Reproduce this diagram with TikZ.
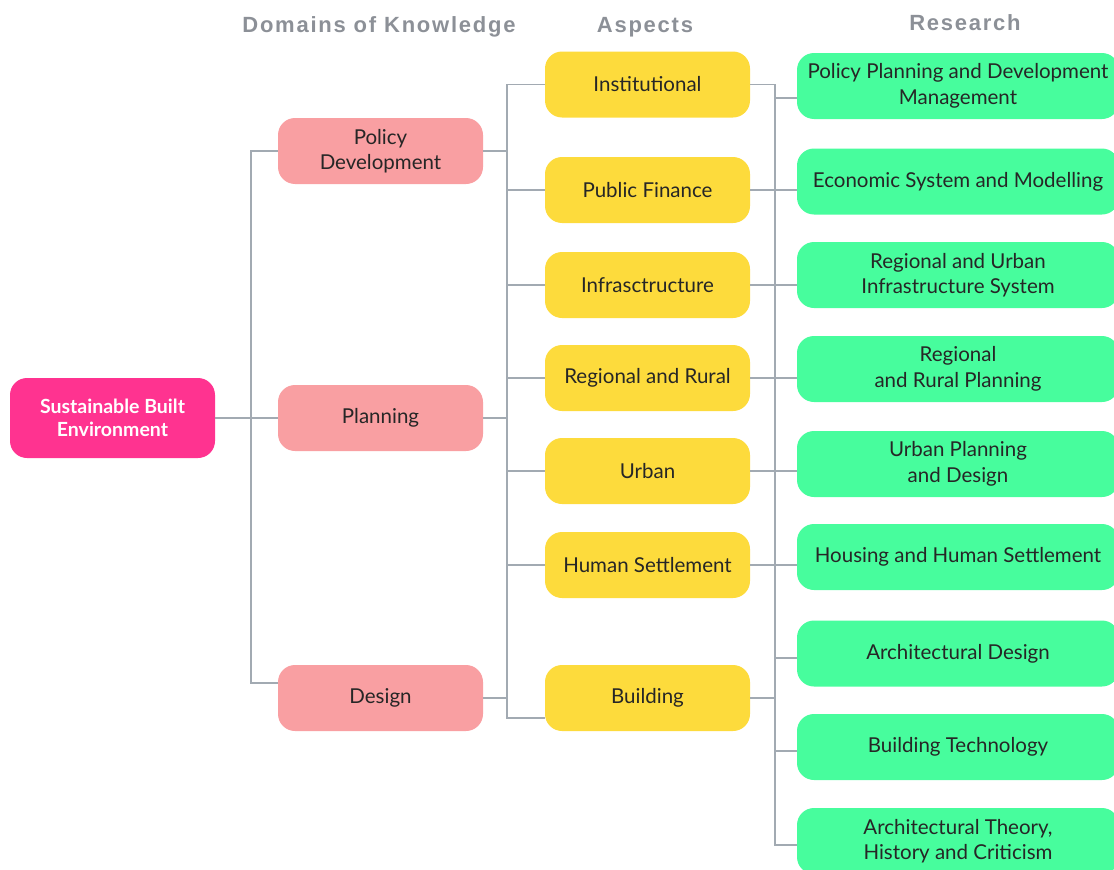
\documentclass[tikz,border=0pt]{standalone}
\usepackage{fontspec}
\setmainfont{Lato}
\newfontfamily\headfont[LetterSpace=8]{Liberation Sans}
\definecolor{rootpink}{HTML}{FF3390}
\definecolor{dompink}{HTML}{F99FA2}
\definecolor{aspyellow}{HTML}{FDDB3C}
\definecolor{resgreen}{HTML}{47FD9D}
\definecolor{linegray}{HTML}{A2AAB2}
\definecolor{headgray}{HTML}{8C9097}
\definecolor{textdark}{HTML}{262626}
\begin{document}
\begin{tikzpicture}[x=1pt,y=-1pt,
  box/.style={rounded corners=17pt, minimum height=66pt, inner sep=0pt, align=center,
    font=\fontsize{20.5}{25.5}\selectfont, text=textdark},
  rootbox/.style={box, fill=rootpink, text=white, minimum width=205pt, minimum height=80pt,
    font=\fontsize{19.5}{23}\selectfont\bfseries},
  dombox/.style={box, fill=dompink, minimum width=205pt},
  aspbox/.style={box, fill=aspyellow, minimum width=205pt},
  resbox/.style={box, fill=resgreen, minimum width=322pt},
  head/.style={font=\headfont\fontsize{22}{26}\selectfont\bfseries, text=headgray, inner sep=0pt, anchor=base},
  conn/.style={draw=linegray, line width=1.6pt}]
\useasboundingbox (0,0) rectangle (1114,870);
\clip (0,0) rectangle (1114,870);

% headers
\node[head] (h1) at (379,32) {Domains of Knowledge};
\node[head] (h2) at (645,32) {Aspects};
\node[head] (h3) at (965,30) {Research};

% root
\node[rootbox] (root) at (112.5,418) {Sustainable Built\\Environment};

% domains
\node[dombox] (policy) at (380.5,151) {Policy\\Development};
\node[dombox] (planning) at (380.5,418) {Planning};
\node[dombox] (design) at (380.5,698) {Design};

% aspects
\node[aspbox] (inst) at (647.5,84.5) {Institutional};
\node[aspbox] (pf) at (647.5,190) {Public Finance};
\node[aspbox] (infra) at (647.5,285) {Infrasctructure};
\node[aspbox] (rr) at (647.5,378) {Regional and Rural};
\node[aspbox] (urban) at (647.5,471) {Urban};
\node[aspbox] (hs) at (647.5,565) {Human Settlement};
\node[aspbox] (bld) at (647.5,698) {Building};

% research
\node[resbox] (ppd) at (958,86) {Policy Planning and Development\\Management};
\node[resbox] (esm) at (958,181.5) {Economic System and Modelling};
\node[resbox] (rui) at (958,275) {Regional and Urban\\Infrastructure System};
\node[resbox] (rrp) at (958,369) {Regional\\and Rural Planning};
\node[resbox] (upd) at (958,464) {Urban Planning\\and Design};
\node[resbox] (hhs) at (958,557) {Housing and Human Settlement};
\node[resbox] (ad) at (958,653.5) {Architectural Design};
\node[resbox] (bt) at (958,747) {Building Technology};
\node[resbox] (at) at (958,841) {Architectural Theory,\\History and Criticism};

% bus coordinates
\coordinate (b1) at (251,0);
\coordinate (b2) at (507,0);
\coordinate (b3) at (775,0);
\coordinate (dL) at ([yshift=15pt]design.west);
\coordinate (bL) at ([yshift=-20pt]bld.west);
\coordinate (ppL) at ([yshift=-12pt]ppd.west);
\coordinate (adL) at ([yshift=-4.5pt]ad.west);
\coordinate (btL) at ([yshift=-4pt]bt.west);
\coordinate (atL) at ([yshift=-4pt]at.west);

% root to domains
\draw[conn] (root.east) -- (planning.west);
\draw[conn] (policy.west) -- (policy.west -| b1) -- (dL -| b1) -- (dL);

% domains to aspects
\draw[conn] (inst.west) -- (inst.west -| b2) -- (bL -| b2) -- (bL);
\draw[conn] (policy.east) -- (policy.east -| b2);
\draw[conn] (planning.east) -- (planning.east -| b2);
\draw[conn] (design.east) -- (design.east -| b2);
\draw[conn] (pf.west -| b2) -- (pf.west);
\draw[conn] (infra.west -| b2) -- (infra.west);
\draw[conn] (rr.west -| b2) -- (rr.west);
\draw[conn] (urban.west -| b2) -- (urban.west);
\draw[conn] (hs.west -| b2) -- (hs.west);

% aspects to research
\draw[conn] (inst.east) -- (inst.east -| b3) -- (atL -| b3) -- (atL);
\draw[conn] (ppL -| b3) -- (ppL);
\draw[conn] (pf.east) -- (pf.east -| esm.west);
\draw[conn] (infra.east) -- (infra.east -| rui.west);
\draw[conn] (rr.east) -- (rr.east -| rrp.west);
\draw[conn] (urban.east) -- (urban.east -| upd.west);
\draw[conn] (hs.east) -- (hs.east -| hhs.west);
\draw[conn] (bld.east) -- (bld.east -| b3);
\draw[conn] (adL -| b3) -- (adL);
\draw[conn] (btL -| b3) -- (btL);
\end{tikzpicture}
\end{document}
